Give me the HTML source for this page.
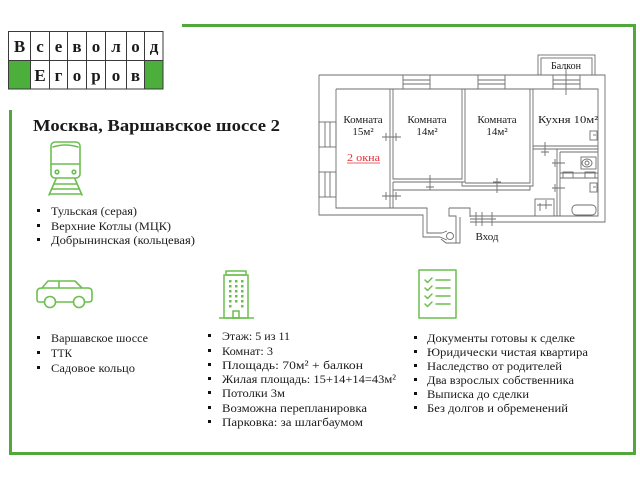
<!DOCTYPE html>
<html><head><meta charset="utf-8"><style>
html,body{margin:0;padding:0;background:#fff;width:640px;height:480px;overflow:hidden}
svg{display:block}
text{font-family:"Liberation Serif","DejaVu Serif",serif;fill:#1a1a1a}
</style></head><body>
<svg width="640" height="480" viewBox="0 0 640 480" xmlns="http://www.w3.org/2000/svg">
<rect width="640" height="480" fill="#fff"/>
<!-- frame -->
<g fill="#52a83d">
<rect x="182" y="24" width="454" height="3"/>
<rect x="633" y="24" width="3" height="431"/>
<rect x="9" y="452" width="627" height="3"/>
<rect x="9" y="110" width="3" height="345"/>
</g>
<!-- logo -->
<rect x="8.5" y="60.5" width="21.5" height="28.5" fill="#4caf3c"/>
<rect x="144" y="60.5" width="19" height="28.5" fill="#4caf3c"/>
<g stroke="#3a3a3a" stroke-width="1" fill="none">
<rect x="8.5" y="31.5" width="154.5" height="57.5"/>
<line x1="8.5" y1="60.5" x2="163" y2="60.5"/>
<line x1="30.5" y1="31.5" x2="30.5" y2="89"/>
<line x1="49.5" y1="31.5" x2="49.5" y2="89"/>
<line x1="67.5" y1="31.5" x2="67.5" y2="89"/>
<line x1="86.5" y1="31.5" x2="86.5" y2="89"/>
<line x1="105.5" y1="31.5" x2="105.5" y2="89"/>
<line x1="126.5" y1="31.5" x2="126.5" y2="89"/>
<line x1="144.5" y1="31.5" x2="144.5" y2="89"/>
</g>
<g font-size="17" font-weight="bold" text-anchor="middle">
<text x="19.5" y="52">В</text><text x="40" y="52">с</text><text x="58.5" y="52">е</text><text x="77" y="52">в</text><text x="96" y="52">о</text><text x="116" y="52">л</text><text x="135.5" y="52">о</text><text x="154" y="52">д</text>
<text x="40" y="81">Е</text><text x="58.5" y="81">г</text><text x="77" y="81">о</text><text x="96" y="81">р</text><text x="116" y="81">о</text><text x="135.5" y="81">в</text>
</g>
<!-- title -->
<text x="33" y="131" font-size="17" font-weight="bold" textLength="247" lengthAdjust="spacingAndGlyphs">Москва, Варшавское шоссе 2</text>

<!-- train icon -->
<g stroke="#6cbf4e" stroke-width="1.6" fill="none" stroke-linecap="round">
<rect x="51" y="142" width="29" height="36" rx="4"/>
<path d="M53,147 Q65,143 78,147"/>
<line x1="51" y1="164" x2="80" y2="164"/>
<circle cx="57" cy="172" r="1.8"/>
<circle cx="74" cy="172" r="1.8"/>
<line x1="56" y1="179" x2="49" y2="195"/>
<line x1="75" y1="179" x2="82" y2="195"/>
<line x1="54" y1="184" x2="77" y2="184"/>
<line x1="52" y1="189" x2="79" y2="189"/>
<line x1="50" y1="194" x2="81" y2="194"/>
</g>
<!-- list 1 -->
<g fill="#111"><rect x="37" y="209" width="3" height="3"/><rect x="37" y="224" width="3" height="3"/><rect x="37" y="238" width="3" height="3"/></g>
<g font-size="12">
<text x="51" y="215" textLength="86" lengthAdjust="spacingAndGlyphs">Тульская (серая)</text>
<text x="51" y="230" textLength="120" lengthAdjust="spacingAndGlyphs">Верхние Котлы (МЦК)</text>
<text x="51" y="244" textLength="144" lengthAdjust="spacingAndGlyphs">Добрынинская (кольцевая)</text>
</g>

<!-- car icon -->
<g stroke="#6cbf4e" stroke-width="1.6" fill="none" stroke-linejoin="round">
<path d="M44,302 H39 Q37,302 37,299 V292 Q37,288 42,288 L48,281 H75 L82,288 H88 Q92,288 92,292 V299 Q92,302 89,302 H85"/>
<line x1="56" y1="302" x2="73" y2="302"/>
<line x1="59" y1="281" x2="59" y2="288"/>
<line x1="42" y1="288" x2="82" y2="288"/>
<circle cx="50" cy="302" r="5.5"/>
<circle cx="79" cy="302" r="5.5"/>
</g>
<!-- list 2 -->
<g fill="#111"><rect x="37" y="336" width="3" height="3"/><rect x="37" y="351" width="3" height="3"/><rect x="37" y="366" width="3" height="3"/></g>
<g font-size="12">
<text x="51" y="342" textLength="97" lengthAdjust="spacingAndGlyphs">Варшавское шоссе</text>
<text x="51" y="357" textLength="21" lengthAdjust="spacingAndGlyphs">ТТК</text>
<text x="51" y="372" textLength="84" lengthAdjust="spacingAndGlyphs">Садовое кольцо</text>
</g>

<!-- building icon -->
<g stroke="#6cbf4e" stroke-width="1.5" fill="none">
<rect x="226" y="271" width="20" height="4"/>
<rect x="224" y="275" width="24" height="43"/>
<line x1="219" y1="318" x2="254" y2="318"/>
<rect x="233" y="311" width="6" height="7"/>
</g>
<g fill="#6cbf4e">
<rect x="229" y="280" width="2.5" height="2.5"/><rect x="235" y="280" width="2.5" height="2.5"/><rect x="241" y="280" width="2.5" height="2.5"/>
<rect x="229" y="285" width="2.5" height="2.5"/><rect x="235" y="285" width="2.5" height="2.5"/><rect x="241" y="285" width="2.5" height="2.5"/>
<rect x="229" y="290" width="2.5" height="2.5"/><rect x="235" y="290" width="2.5" height="2.5"/><rect x="241" y="290" width="2.5" height="2.5"/>
<rect x="229" y="295" width="2.5" height="2.5"/><rect x="235" y="295" width="2.5" height="2.5"/><rect x="241" y="295" width="2.5" height="2.5"/>
<rect x="229" y="300" width="2.5" height="2.5"/><rect x="235" y="300" width="2.5" height="2.5"/><rect x="241" y="300" width="2.5" height="2.5"/>
<rect x="229" y="305" width="2.5" height="2.5"/><rect x="241" y="305" width="2.5" height="2.5"/>
</g>
<!-- list 3 -->
<g fill="#111">
<rect x="208" y="334" width="3" height="3"/><rect x="208" y="349" width="3" height="3"/><rect x="208" y="363" width="3" height="3"/><rect x="208" y="377" width="3" height="3"/><rect x="208" y="391" width="3" height="3"/><rect x="208" y="406" width="3" height="3"/><rect x="208" y="420" width="3" height="3"/>
</g>
<g font-size="12">
<text x="222" y="340" textLength="68" lengthAdjust="spacingAndGlyphs">Этаж: 5 из 11</text>
<text x="222" y="355" textLength="51" lengthAdjust="spacingAndGlyphs">Комнат: 3</text>
<text x="222" y="369" textLength="141" lengthAdjust="spacingAndGlyphs">Площадь: 70м² + балкон</text>
<text x="222" y="383" textLength="174" lengthAdjust="spacingAndGlyphs">Жилая площадь: 15+14+14=43м²</text>
<text x="222" y="397" textLength="63" lengthAdjust="spacingAndGlyphs">Потолки 3м</text>
<text x="222" y="412" textLength="145" lengthAdjust="spacingAndGlyphs">Возможна перепланировка</text>
<text x="222" y="426" textLength="141" lengthAdjust="spacingAndGlyphs">Парковка: за шлагбаумом</text>
</g>

<!-- checklist icon -->
<g stroke="#6cbf4e" stroke-width="1.5" fill="none" stroke-linecap="round" stroke-linejoin="round">
<rect x="419" y="270" width="37" height="48"/>
<path d="M425,280 l2.5,2.5 l4.5,-4.5"/><line x1="436" y1="280" x2="450" y2="280"/>
<path d="M425,288 l2.5,2.5 l4.5,-4.5"/><line x1="436" y1="288" x2="450" y2="288"/>
<path d="M425,296 l2.5,2.5 l4.5,-4.5"/><line x1="436" y1="296" x2="450" y2="296"/>
<path d="M425,304 l2.5,2.5 l4.5,-4.5"/><line x1="436" y1="304" x2="450" y2="304"/>
</g>
<!-- list 4 -->
<g fill="#111">
<rect x="414" y="336" width="3" height="3"/><rect x="414" y="350" width="3" height="3"/><rect x="414" y="364" width="3" height="3"/><rect x="414" y="378" width="3" height="3"/><rect x="414" y="392" width="3" height="3"/><rect x="414" y="406" width="3" height="3"/>
</g>
<g font-size="12">
<text x="427" y="342" textLength="148" lengthAdjust="spacingAndGlyphs">Документы готовы к сделке</text>
<text x="427" y="356" textLength="161" lengthAdjust="spacingAndGlyphs">Юридически чистая квартира</text>
<text x="427" y="370" textLength="135" lengthAdjust="spacingAndGlyphs">Наследство от родителей</text>
<text x="427" y="384" textLength="147" lengthAdjust="spacingAndGlyphs">Два взрослых собственника</text>
<text x="427" y="398" textLength="102" lengthAdjust="spacingAndGlyphs">Выписка до сделки</text>
<text x="427" y="412" textLength="141" lengthAdjust="spacingAndGlyphs">Без долгов и обременений</text>
</g>

<!-- floor plan -->
<g stroke="#6e6e6e" stroke-width="0.9" fill="none">
<path d="M319,75 H605 V222 H470"/>
<path d="M319,75 V215 H423 V237 H440"/>
<path d="M336,89 H598 V216 H470"/>
<path d="M336,89 V208 H427 V233 H442"/>
<path d="M440,237 L447,240 M442,233 L447,231"/>
<circle cx="450" cy="236" r="3.5"/>
<path d="M449,208 H470 V217 M449,208 V216 H456 V243 H446 L441,239"/>
<path d="M460,217 V243 H456"/>
<rect x="538" y="55" width="57" height="20"/>
<rect x="541" y="58" width="51" height="17"/>
<rect x="403" y="75" width="27" height="14"/><line x1="403" y1="80" x2="430" y2="80"/><line x1="403" y1="84" x2="430" y2="84"/>
<rect x="478" y="75" width="27" height="14"/><line x1="478" y1="80" x2="505" y2="80"/><line x1="478" y1="84" x2="505" y2="84"/>
<rect x="553" y="75" width="27" height="14"/><line x1="553" y1="80" x2="580" y2="80"/><line x1="553" y1="84" x2="580" y2="84"/>
<line x1="566" y1="68" x2="566" y2="95"/>
<rect x="319" y="122" width="17" height="25"/><line x1="325" y1="122" x2="325" y2="147"/><line x1="330" y1="122" x2="330" y2="147"/>
<rect x="319" y="172" width="17" height="25"/><line x1="325" y1="172" x2="325" y2="197"/><line x1="330" y1="172" x2="330" y2="197"/>
<path d="M390,89 V208 M393,89 V179 H462 V89 M393,182 V208"/>
<path d="M393,182 H465 V89"/>
<path d="M465,183 H530 V89 M465,186 H533 V89"/>
<path d="M462,182 V186 H465"/>
<path d="M533,146 H598 M533,149 H598"/>
<path d="M530,186 V190 H393"/>
<path d="M557,149 V216 M560,152 V216"/>
<path d="M560,152 H598"/>
<path d="M560,173 H598 M560,178 H598"/>
<rect x="563" y="172" width="10" height="6"/>
<rect x="585" y="172" width="10" height="6"/>
<rect x="535" y="199" width="19" height="17"/>
<rect x="590" y="131" width="7" height="9"/><line x1="593" y1="135" x2="596" y2="135"/>
<rect x="590" y="183" width="7" height="9"/><line x1="593" y1="187" x2="596" y2="187"/>
<ellipse cx="587" cy="163" rx="5" ry="4"/><circle cx="587" cy="163" r="2"/>
<rect x="581" y="157" width="15" height="12"/>
<rect x="572" y="205" width="24" height="10" rx="4"/>
<path d="M382,137 H401 M386,133 V141 M396,133 V141"/>
<path d="M382,196 H401 M386,192 V200 M396,192 V200"/>
<path d="M430,175 V190 M426,179 H434 M426,187 H434"/>
<path d="M497,178 V193 M493,182 H501 M493,190 H501"/>
<path d="M545,142 V156 M541,146 H549 M541,152 H549"/>
<path d="M552,163 H565 M555,159 V167"/>
<path d="M552,188 H565 M555,184 V192"/>
<path d="M540,203 V211 M546,200 V209 M537,205 H552"/>
<path d="M476,212 V226 M482,212 V226 M492,212 V226 M470,219 H496"/>
</g>
<g font-size="11" text-anchor="middle">
<text x="363" y="123">Комната</text>
<text x="363" y="135">15м²</text>
<text x="427" y="123">Комната</text>
<text x="427" y="135">14м²</text>
<text x="497" y="123">Комната</text>
<text x="497" y="135">14м²</text>
<text x="568" y="123" textLength="60" lengthAdjust="spacingAndGlyphs">Кухня 10м²</text>
<text x="566" y="69" font-size="10">Балкон</text>
<text x="487" y="240">Вход</text>
</g>
<text x="347" y="161" font-size="11" style="fill:#e0303a" textLength="33" lengthAdjust="spacingAndGlyphs">2 окна</text>
<line x1="347" y1="163" x2="380" y2="163" stroke="#e0303a" stroke-width="0.8"/>
</svg>
</body></html>
